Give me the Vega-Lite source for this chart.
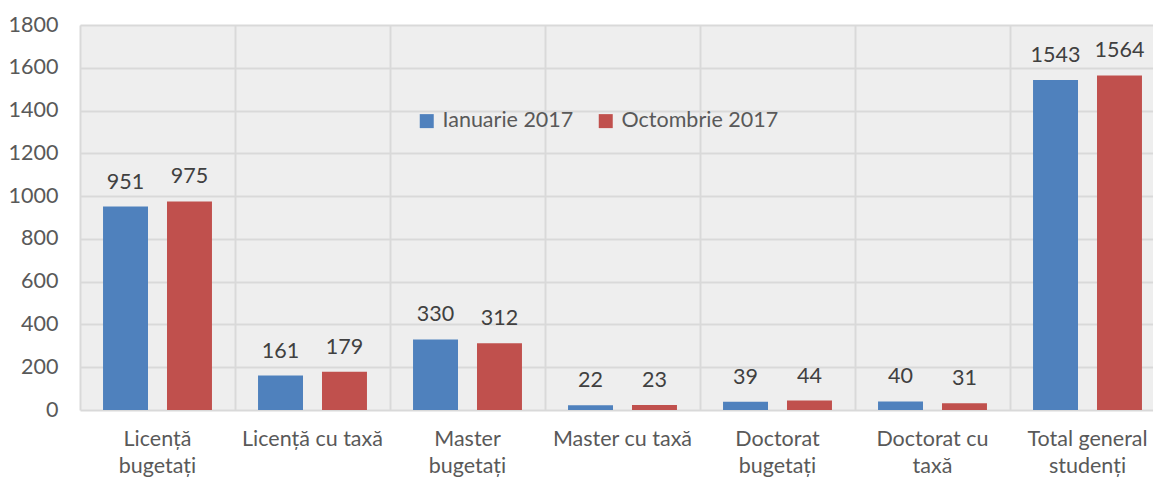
{
  "$schema": "https://vega.github.io/schema/vega-lite/v6.json",
  "width": 1085,
  "height": 385,
  "autosize": "none",
  "padding": {"left": 80, "top": 25, "right": 0, "bottom": 72},
  "background": "white",
  "config": {
    "font": "Lato",
    "view": {"fill": "#eeeeee", "stroke": null}
  },
  "data": {
    "values": [
      {"categorie": "Licență|bugetați", "perioada": "Ianuarie 2017", "studenti": 951},
      {"categorie": "Licență|bugetați", "perioada": "Octombrie 2017", "studenti": 975},
      {"categorie": "Licență cu taxă", "perioada": "Ianuarie 2017", "studenti": 161},
      {"categorie": "Licență cu taxă", "perioada": "Octombrie 2017", "studenti": 179},
      {"categorie": "Master|bugetați", "perioada": "Ianuarie 2017", "studenti": 330},
      {"categorie": "Master|bugetați", "perioada": "Octombrie 2017", "studenti": 312},
      {"categorie": "Master cu taxă", "perioada": "Ianuarie 2017", "studenti": 22},
      {"categorie": "Master cu taxă", "perioada": "Octombrie 2017", "studenti": 23},
      {"categorie": "Doctorat|bugetați", "perioada": "Ianuarie 2017", "studenti": 39},
      {"categorie": "Doctorat|bugetați", "perioada": "Octombrie 2017", "studenti": 44},
      {"categorie": "Doctorat cu|taxă", "perioada": "Ianuarie 2017", "studenti": 40},
      {"categorie": "Doctorat cu|taxă", "perioada": "Octombrie 2017", "studenti": 31},
      {"categorie": "Total general|studenți", "perioada": "Ianuarie 2017", "studenti": 1543},
      {"categorie": "Total general|studenți", "perioada": "Octombrie 2017", "studenti": 1564}
    ]
  },
  "encoding": {
    "x": {
      "field": "categorie",
      "type": "nominal",
      "sort": null,
      "title": null,
      "scale": {"paddingInner": 0, "paddingOuter": 0},
      "axis": {
        "labelAngle": 0,
        "labelExpr": "split(datum.label, '|')",
        "labelFontSize": 21.5,
        "labelColor": "#595959",
        "labelPadding": 18,
        "labelLineHeight": 27,
        "labelBaseline": "top",
        "domain": false,
        "ticks": false,
        "grid": true,
        "bandPosition": 0,
        "gridColor": "#d9d9d9",
        "gridWidth": 2
      }
    },
    "xOffset": {
      "field": "perioada",
      "type": "nominal",
      "scale": {"paddingInner": 0.297, "paddingOuter": 0.36}
    },
    "y": {
      "field": "studenti",
      "type": "quantitative",
      "title": null,
      "scale": {"domain": [0, 1800], "nice": false},
      "axis": {
        "values": [0, 200, 400, 600, 800, 1000, 1200, 1400, 1600, 1800],
        "format": "d",
        "labelFontSize": 21.5,
        "labelColor": "#595959",
        "labelPadding": 22,
        "domain": false,
        "ticks": false,
        "gridColor": "#d9d9d9",
        "gridWidth": 2
      }
    }
  },
  "layer": [
    {
      "mark": {"type": "bar"},
      "encoding": {
        "color": {
          "field": "perioada",
          "type": "nominal",
          "scale": {"domain": ["Ianuarie 2017", "Octombrie 2017"], "range": ["#4f81bd", "#c0504d"]},
          "legend": {
            "title": null,
            "orient": "none",
            "legendX": 336,
            "legendY": 85,
            "direction": "horizontal",
            "symbolType": "square",
            "symbolSize": 196,
            "symbolStrokeWidth": 0,
            "labelFontSize": 21.5,
            "labelColor": "#595959",
            "labelOffset": 5,
            "columnPadding": 21
          }
        }
      }
    },
    {
      "mark": {"type": "text", "baseline": "alphabetic", "dy": -18, "fontSize": 21.5, "color": "#404040"},
      "encoding": {
        "text": {"field": "studenti", "type": "quantitative"}
      }
    }
  ]
}
